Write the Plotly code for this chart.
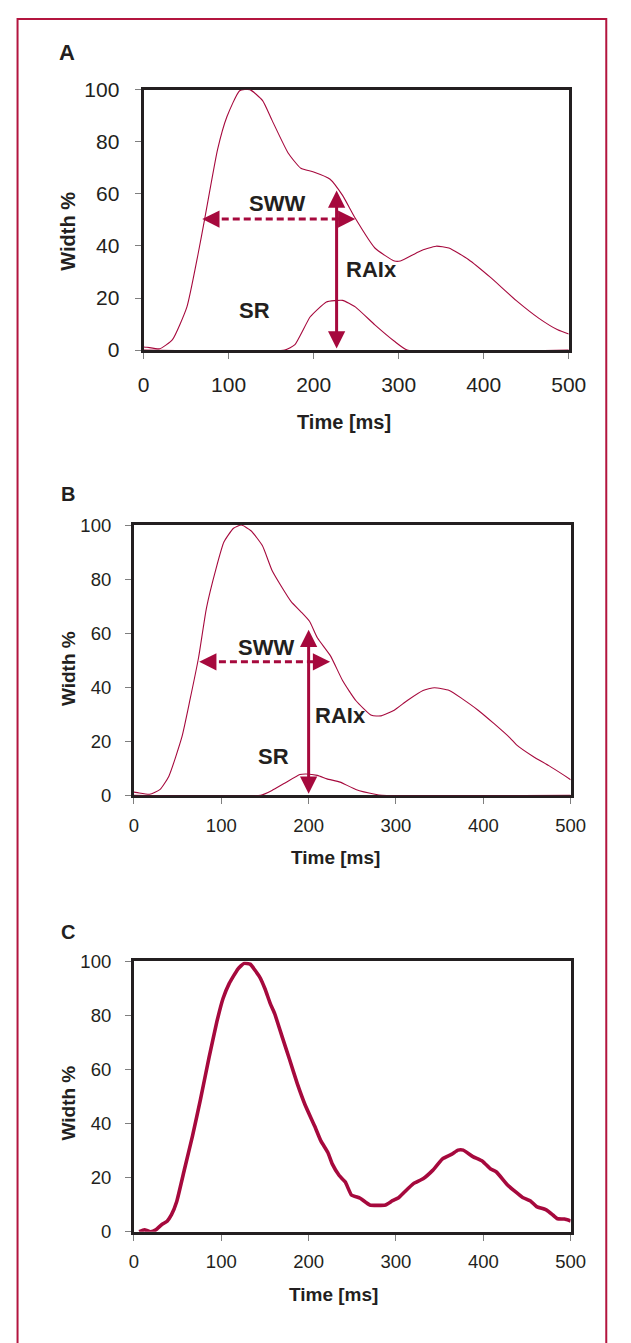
import plotly.graph_objects as go

# ---------------- Data ----------------
# Panel A
a_main_t = [0, 4, 19, 34, 51, 64, 72, 87, 98, 113, 125, 140, 151, 170, 185, 200, 219, 234, 249, 272, 295, 302, 325, 344, 359, 382, 408, 438, 465, 487, 500]
a_main_w = [1.2, 1.1, 0.5, 4, 16.6, 36.7, 50.6, 77, 89.6, 99.6, 100, 95.8, 88.3, 75.7, 69.8, 68.4, 65.7, 59.4, 50.6, 39.2, 34.2, 34.2, 38, 39.9, 39.2, 34.8, 27.9, 19.1, 12.2, 7.8, 6.2]
a_sr_t = [0, 166, 178, 196, 215, 234, 249, 272, 295, 310, 500]
a_sr_w = [0, 0, 2.1, 12.8, 18.5, 19.1, 16.6, 9.7, 3.4, 0, 0]
a_raix = dict(t=227, top=61.3, bottom=0)
a_sww = dict(w=50.3, left=69, right=249)
a_labels = [("SWW", 157, 56.2), ("RAIx", 268, 31), ("SR", 130, 15.3)]

# Panel B
b_main_t = [0, 4, 18, 30, 40, 55, 64, 74, 83, 94, 103, 114, 123, 134, 147, 158, 169, 180, 191, 201, 210, 225, 239, 254, 272, 283, 298, 313, 331, 344, 361, 376, 394, 412, 431, 438, 457, 475, 493, 500]
b_main_w = [1.2, 1, 0.4, 2.2, 7.1, 21.7, 35.1, 51, 69.3, 83.9, 93.7, 98.8, 100, 97.9, 92.4, 83.3, 77.2, 71.7, 68, 64.4, 58.3, 51.6, 42.4, 35.1, 29.6, 29.4, 31.5, 35.1, 38.8, 39.8, 38.8, 35.7, 31.5, 26.6, 21.1, 18.7, 14.4, 11, 7.3, 5.8]
b_sr_t = [0, 145, 158, 173, 190, 197, 210, 221, 236, 254, 276, 284, 500]
b_sr_w = [0, 0, 1.8, 4.6, 7.7, 7.9, 7.4, 6.1, 4.9, 2.2, 0.4, 0, 0]
b_raix = dict(t=200, top=61.3, bottom=0)
b_sww = dict(w=49.4, left=74.7, right=224.6)
b_labels = [("SWW", 151, 54.6), ("RAIx", 236, 29.6), ("SR", 160, 14.4)]

# Panel C
c_t = [6, 12, 19, 25, 32, 38, 43, 49, 58, 67, 76, 86, 95, 102, 109, 119, 126, 133, 144, 150, 156, 161, 170, 178, 187, 196, 207, 214, 222, 227, 235, 242, 249, 259, 270, 288, 296, 303, 310, 320, 331, 342, 353, 364, 371, 377, 388, 399, 408, 415, 428, 436, 445, 454, 461, 472, 480, 485, 493, 500]
c_w = [0, 0.7, 0, 0.7, 2.7, 3.9, 6.3, 11.2, 23.3, 35.4, 48.7, 64.5, 77.8, 86.3, 91.8, 97.2, 99.3, 99, 94.2, 89.9, 84.5, 80.8, 71.8, 63.9, 54.8, 46.9, 39, 33.6, 29.3, 25.1, 20.8, 18.4, 13.6, 12.4, 9.9, 9.9, 11.5, 12.6, 14.8, 17.8, 19.6, 22.7, 26.9, 28.7, 30.2, 30.2, 27.8, 26.1, 23.3, 22.1, 17.2, 15, 12.7, 11.4, 9.3, 8.1, 6.1, 4.8, 4.7, 4]

x_ticks = [0, 100, 200, 300, 400, 500]
y_ticks = [0, 20, 40, 60, 80, 100]
panel_letters = ["A", "B", "C"]
x_title = "Time [ms]"
y_title = "Width %"

# ---------------- Styling ----------------
W, H = 631, 1343
RED = "#a6093d"
BORDER = "#b3153f"
INK = "#231f20"
FONT = "Liberation Sans, Arial, sans-serif"


def px_x(p):
    return p / W


def px_y(p):
    return 1 - p / H


# plot-area pixel boxes (left, right, top, bottom)
boxes = [(143, 585, 79, 344), (133, 587, 522, 797), (133, 587, 966, 1241)]
tick_sizes = [21, 18.5, 18.5]
x_standoff = [8, 5, 5]
y_standoff = [11, 10, 10]
title_sizes = [20, 19, 19]
letter_sizes = [22, 20, 20]
letter_pos = [(63, 41), (64, 490), (64, 936)]
ytitle_pos = [(65, 223), (65, 668), (65, 1110)]
xtitle_pos = [(351, 417), (343, 860), (340, 1305)]

fig = go.Figure()

fig.add_trace(go.Scatter(x=a_main_t, y=a_main_w, mode="lines", line=dict(color=RED, width=1.1, shape="spline", smoothing=0.5), xaxis="x", yaxis="y"))
fig.add_trace(go.Scatter(x=a_sr_t, y=a_sr_w, mode="lines", line=dict(color=RED, width=1.1, shape="spline", smoothing=0.4), xaxis="x", yaxis="y"))
fig.add_trace(go.Scatter(x=[a_sww["left"] + 10, a_sww["right"] - 10], y=[a_sww["w"], a_sww["w"]], mode="lines", line=dict(color=RED, width=3, dash="7px,4px"), xaxis="x", yaxis="y"))

fig.add_trace(go.Scatter(x=b_main_t, y=b_main_w, mode="lines", line=dict(color=RED, width=1.1, shape="spline", smoothing=0.5), xaxis="x2", yaxis="y2"))
fig.add_trace(go.Scatter(x=b_sr_t, y=b_sr_w, mode="lines", line=dict(color=RED, width=1.1, shape="spline", smoothing=0.4), xaxis="x2", yaxis="y2"))
fig.add_trace(go.Scatter(x=[b_sww["left"] + 10, b_sww["right"] - 10], y=[b_sww["w"], b_sww["w"]], mode="lines", line=dict(color=RED, width=3, dash="7px,4px"), xaxis="x2", yaxis="y2"))

fig.add_trace(go.Scatter(x=c_t, y=c_w, mode="lines", line=dict(color=RED, width=3.6, shape="spline", smoothing=0.4), xaxis="x3", yaxis="y3"))

annotations = []
for i, (raix, sww, labels) in enumerate([(a_raix, a_sww, a_labels), (b_raix, b_sww, b_labels)]):
    xr = "x" if i == 0 else "x2"
    yr = "y" if i == 0 else "y2"
    # vertical solid double arrow (RAIx)
    annotations.append(dict(x=raix["t"], y=raix["top"], ax=raix["t"], ay=raix["bottom"], xref=xr, yref=yr, axref=xr, ayref=yr,
                            text="", showarrow=True, arrowhead=2, startarrowhead=2, arrowside="end+start",
                            arrowwidth=3, arrowsize=1.15, startarrowsize=1.15, arrowcolor=RED))
    # heads of the dashed horizontal arrow (SWW)
    annotations.append(dict(x=sww["left"], y=sww["w"], ax=18, ay=0, xref=xr, yref=yr, text="", showarrow=True,
                            arrowhead=2, arrowwidth=3, arrowsize=1.15, arrowcolor=RED))
    annotations.append(dict(x=sww["right"], y=sww["w"], ax=-18, ay=0, xref=xr, yref=yr, text="", showarrow=True,
                            arrowhead=2, arrowwidth=3, arrowsize=1.15, arrowcolor=RED))
    for txt, tx, ty in labels:
        annotations.append(dict(x=tx, y=ty, xref=xr, yref=yr, text=f"<b>{txt}</b>", showarrow=False,
                                font=dict(family=FONT, size=22, color=INK)))

for i in range(3):
    lx, ly = letter_pos[i]
    annotations.append(dict(x=px_x(lx), y=px_y(ly), xref="paper", yref="paper", text=f"<b>{panel_letters[i]}</b>",
                            showarrow=False, font=dict(family=FONT, size=letter_sizes[i], color=INK), xanchor="center", yanchor="middle"))
    tx, ty = ytitle_pos[i]
    annotations.append(dict(x=px_x(tx), y=px_y(ty), xref="paper", yref="paper", text=f"<b>{y_title}</b>", textangle=-90,
                            showarrow=False, font=dict(family=FONT, size=title_sizes[i], color=INK), xanchor="center", yanchor="middle"))
    tx, ty = xtitle_pos[i]
    annotations.append(dict(x=px_x(tx), y=px_y(ty), xref="paper", yref="paper", text=f"<b>{x_title}</b>",
                            showarrow=False, font=dict(family=FONT, size=title_sizes[i], color=INK), xanchor="center", yanchor="middle"))

layout = dict(
    width=W, height=H, margin=dict(l=0, r=0, t=0, b=0), showlegend=False,
    paper_bgcolor="white", plot_bgcolor="white", annotations=annotations,
    shapes=[dict(type="rect", xref="paper", yref="paper", x0=px_x(12), x1=px_x(624), y0=px_y(7), y1=-0.05,
                 line=dict(color=BORDER, width=2), layer="below")],
)

for i in range(3):
    l, r, t, b = boxes[i]
    sx = "" if i == 0 else str(i + 1)
    axcommon = dict(showgrid=False, zeroline=False, showline=True, linecolor=INK, linewidth=3, mirror=True,
                    ticks="outside", ticklen=6, tickwidth=1, tickcolor="#7f7f7f", layer="below traces",
                    tickfont=dict(family=FONT, size=tick_sizes[i], color=INK))
    layout["xaxis" + sx] = dict(axcommon, domain=[px_x(l), px_x(r)], range=[0, 500], tickvals=x_ticks,
                                anchor="y" + sx, ticklabelstandoff=x_standoff[i], fixedrange=True)
    layout["yaxis" + sx] = dict(axcommon, domain=[px_y(b), px_y(t)], range=[0, 100], tickvals=y_ticks,
                                anchor="x" + sx, ticklabelstandoff=y_standoff[i], fixedrange=True)

fig.update_layout(**layout)
fig.write_html("out.html", config={"displayModeBar": False},
               post_script="document.body.style.margin='0';document.body.style.overflow='hidden';")
